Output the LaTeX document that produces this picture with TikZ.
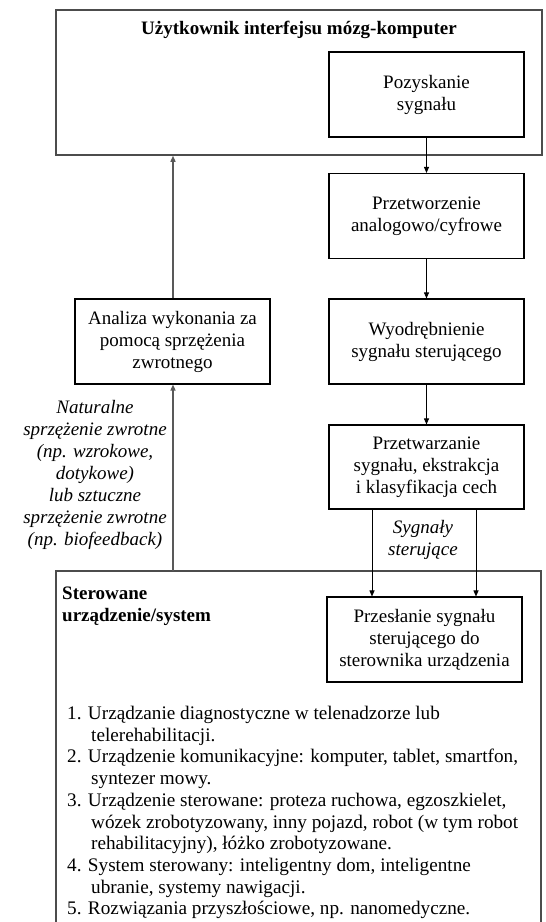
\documentclass[tikz,border=0pt]{standalone}
\usepackage{fontspec}
\setmainfont{Liberation Serif}
\usetikzlibrary{arrows.meta}
\begin{document}
\begin{tikzpicture}[x=1pt,y=-1pt,
  txt/.style={font=\fontsize{19}{22}\selectfont, align=center, inner sep=0pt},
  box/.style={txt, draw=black, line width=1.1pt, minimum width=195pt, minimum height=85pt},
  outer/.style={draw=black!70, line width=1.5pt},
  arr/.style={draw=black, line width=0.9pt, -{Triangle[length=6pt,width=5pt]}},
  farr/.style={draw=black!65, line width=1.3pt, -{Triangle[length=6pt,width=5pt]}, shorten >=0pt}
]
\useasboundingbox (0,0) rectangle (546,922);
% top outer box
\node[outer, minimum width=486pt, minimum height=145pt, inner sep=0pt] (user) at (299,82.5) {};
\node[txt, font=\fontsize{19}{22}\selectfont\bfseries] (title) at (299,30) {Użytkownik interfejsu mózg-komputer};
% right chain
\node[box] (poz) at (426.5,94.5) {Pozyskanie\\sygnału};
\node[box] (conv) at (426.5,216) {Przetworzenie\\analogowo/cyfrowe};
\node[box] (extr) at (426.5,341.5) {Wyodrębnienie\\sygnału sterującego};
\node[box, minimum height=84pt] (proc) at (426.5,467) {Przetwarzanie\\sygnału, ekstrakcja\\i klasyfikacja cech};
\node[box] (send) at (424.5,639.5) {Przesłanie sygnału\\sterującego do\\sterownika urządzenia};
% left
\node[box] (ana) at (172.5,341.5) {Analiza wykonania za\\pomocą sprzężenia\\zwrotnego};
% bottom outer box (open at bottom)
\draw[outer] (56,923) -- (56,571) -- (541,571) -- (541,923);
\coordinate (fbstart) at (173,571);
\coordinate (c1) at (372,0);
\coordinate (c2) at (476,0);
\node[txt, font=\fontsize{19}{22}\selectfont\bfseries, align=left, anchor=north west] (dev) at (62,587) {Sterowane\\urządzenie/system};
% list
\node[txt, font=\fontsize{19.2}{21.7}\selectfont, align=left, anchor=north west] (list) at (67,706) {%
1. Urządzanie diagnostyczne w telenadzorze lub\\
\hspace*{24pt}telerehabilitacji.\\
2. Urządzenie komunikacyjne: komputer, tablet, smartfon,\\
\hspace*{24pt}syntezer mowy.\\
3. Urządzenie sterowane: proteza ruchowa, egzoszkielet,\\
\hspace*{24pt}wózek zrobotyzowany, inny pojazd, robot (w tym robot\\
\hspace*{24pt}rehabilitacyjny), łóżko zrobotyzowane.\\
4. System sterowany: inteligentny dom, inteligentne\\
\hspace*{24pt}ubranie, systemy nawigacji.\\
5. Rozwiązania przyszłościowe, np. nanomedyczne.};
% labels
\node[txt, font=\fontsize{19}{22}\selectfont\itshape] (sig) at (423,540) {Sygnały\\sterujące};
\node[txt, font=\fontsize{19}{22}\selectfont\itshape] (fbl) at (95,475) {Naturalne\\sprzężenie zwrotne\\(np. wzrokowe,\\dotykowe)\\lub sztuczne\\sprzężenie zwrotne\\(np. biofeedback)};
% connectors
\draw[arr] (poz.south) -- (conv.north);
\draw[arr] (conv.south) -- (extr.north);
\draw[arr] (extr.south) -- (proc.north);
\draw[arr] (proc.south -| c1) -- (send.north -| c1);
\draw[arr] (proc.south -| c2) -- (send.north -| c2);
\draw[farr] (fbstart) -- (ana.south -| fbstart);
\draw[farr] (ana.north -| fbstart) -- (user.south -| fbstart);
\end{tikzpicture}
\end{document}
